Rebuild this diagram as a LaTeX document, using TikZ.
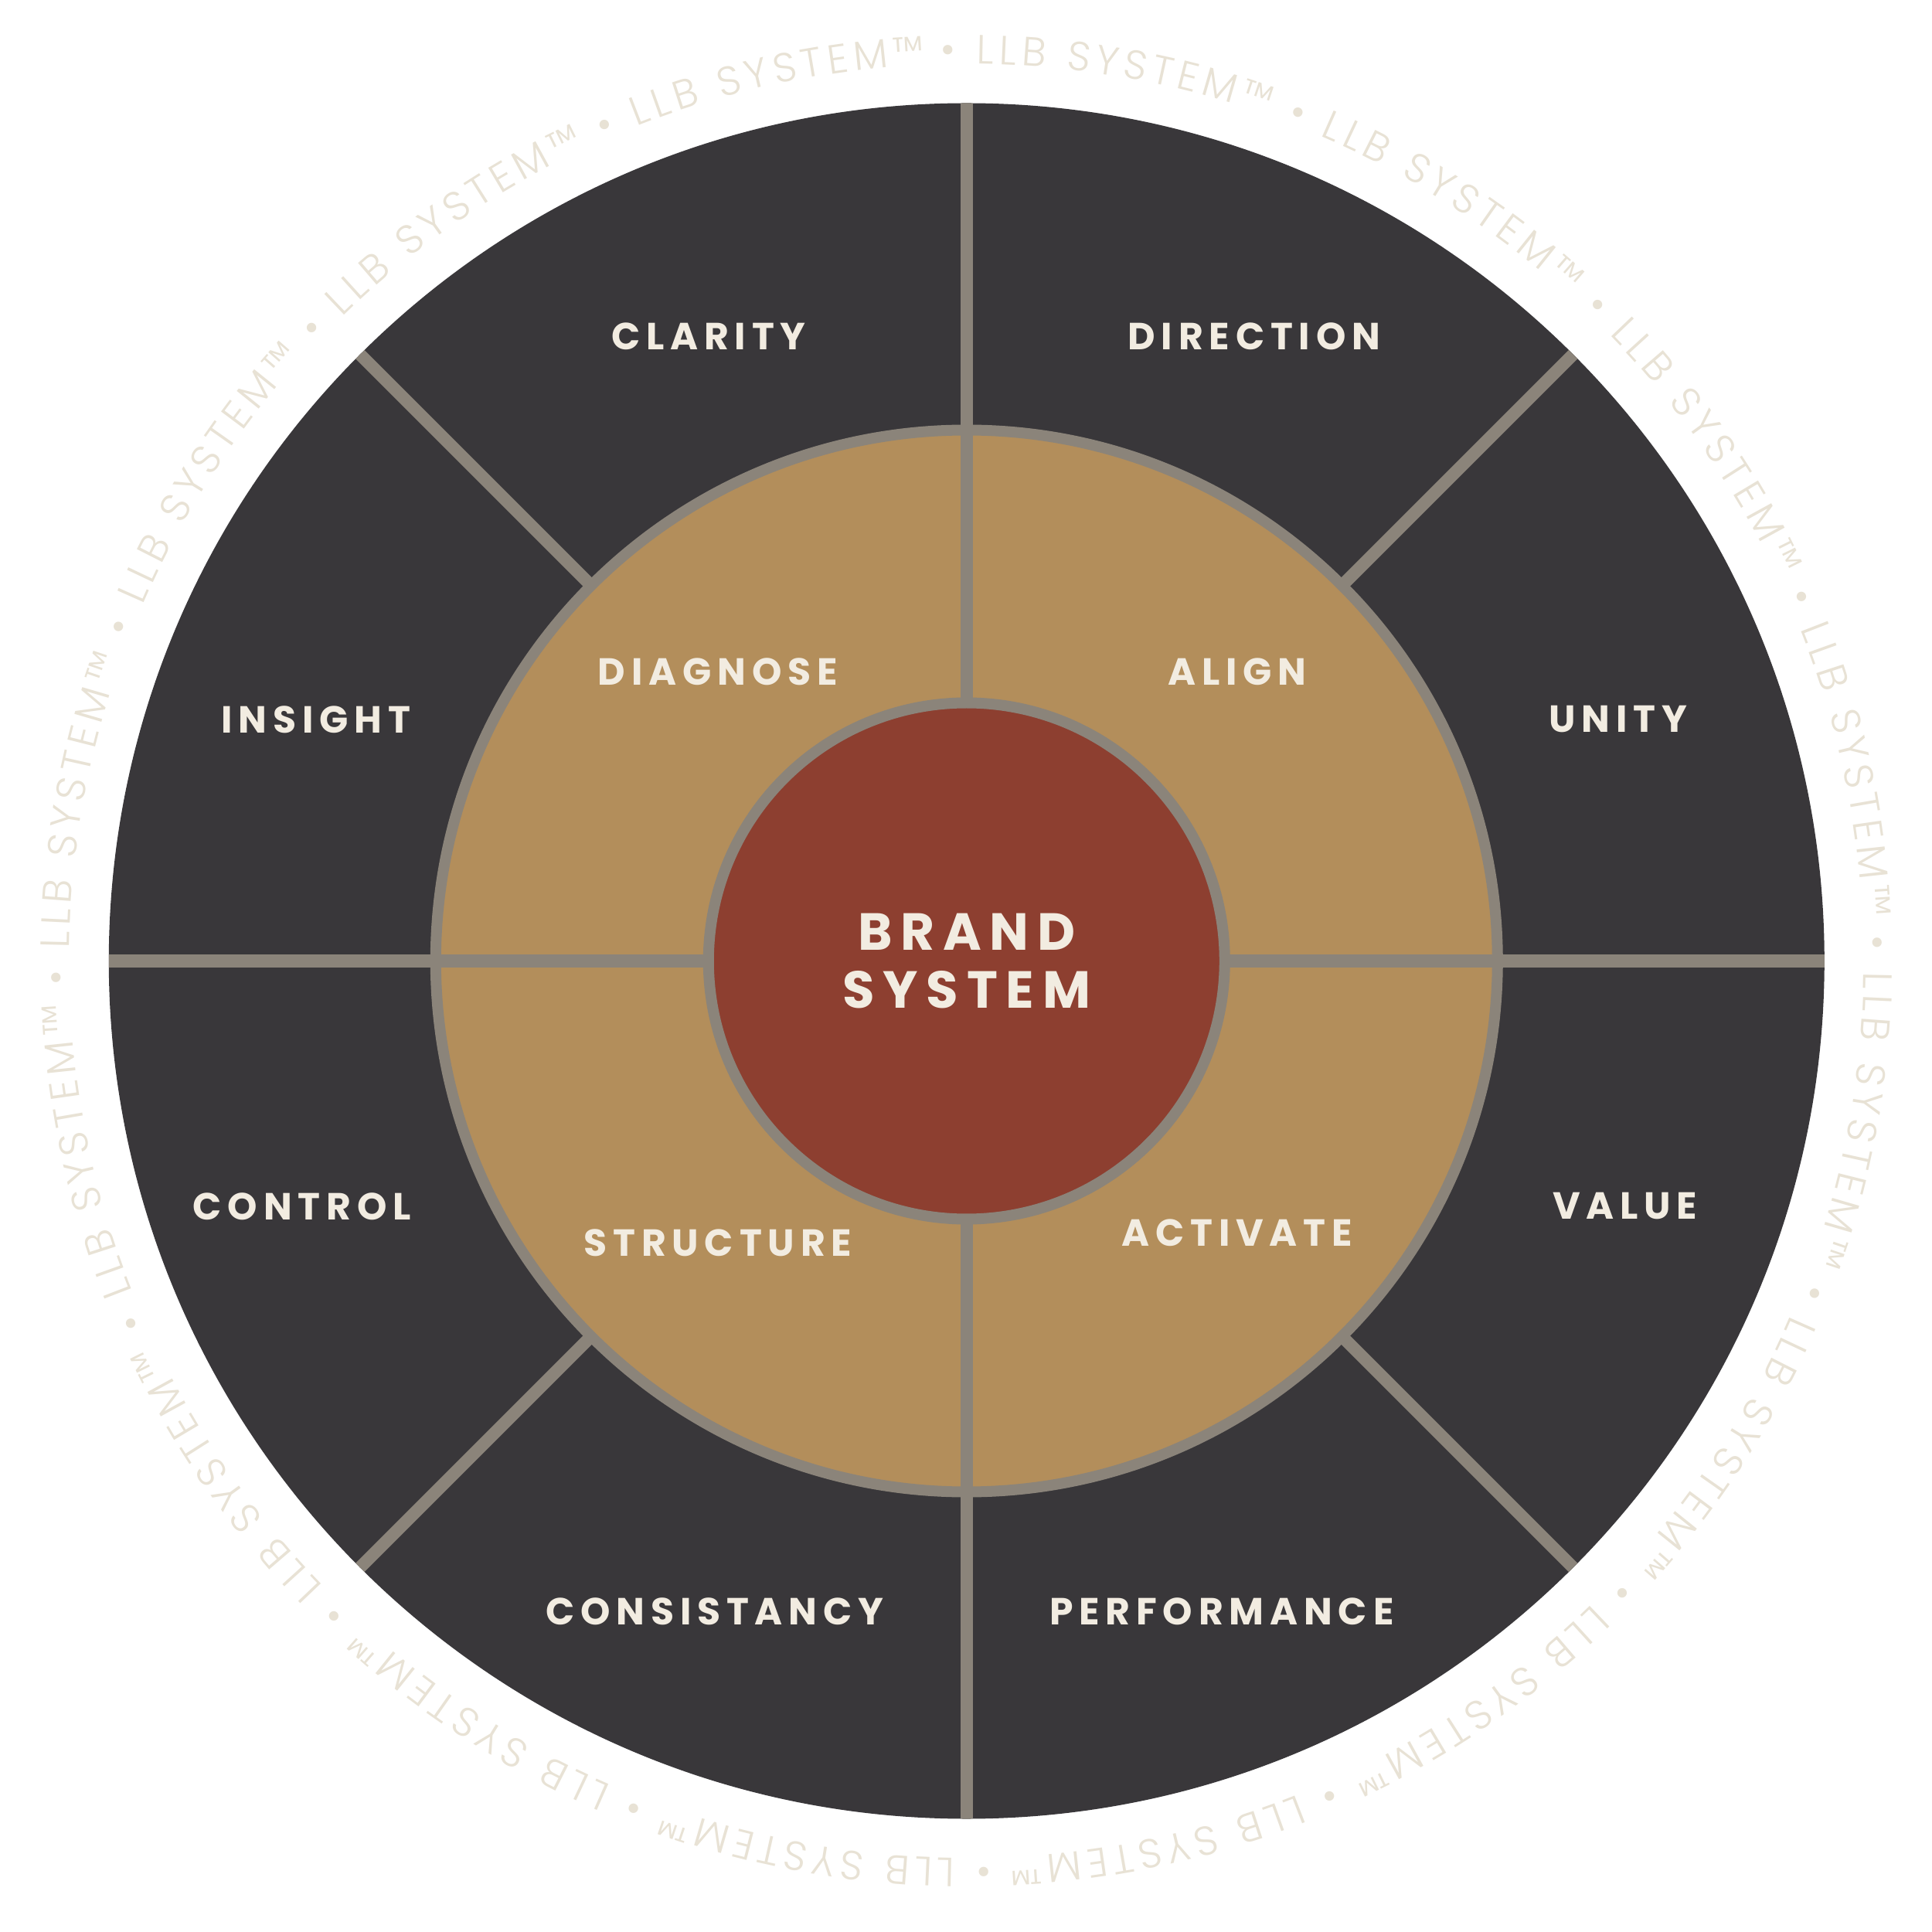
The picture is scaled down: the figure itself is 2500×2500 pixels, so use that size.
\documentclass[tikz,border=0pt]{standalone}
\usepackage{fontspec}
\usetikzlibrary{decorations.text}
\newfontfamily\labfont{Poppins}[LetterSpace=16]
\newfontfamily\ringfont{Poppins Light}
\definecolor{darkc}{HTML}{39373A}
\definecolor{linec}{HTML}{8B847A}
\definecolor{tanc}{HTML}{B38E5B}
\definecolor{redc}{HTML}{8D3F30}
\definecolor{cream}{HTML}{F2ECE1}
\definecolor{ringc}{HTML}{E8E2D5}
\tikzset{
  divider/.style={draw=linec, line width=0.16cm},
  ringborder/.style={draw=linec, line width=0.14cm},
  lab/.style={text=cream, inner sep=0pt, font=\labfont\bfseries\fontsize{13.9}{16}\selectfont},
  biglab/.style={text=cream, inner sep=0pt, align=center, font=\labfont\bfseries\fontsize{19.2}{21.3}\selectfont},
}
\begin{document}
\begin{tikzpicture}[x=0.01cm,y=0.01cm]
\useasboundingbox[fill=white] (-1250.8,-1256.5) rectangle (1249.2,1243.5);
% ring text
\path[decorate, decoration={text along path, text format delimiters={|}{|},
  text color=ringc, text align={fit to path},
  text={|\ringfont\fontsize{15}{18}\selectfont|• LLB SYSTEM™ • LLB SYSTEM™ • LLB SYSTEM™ • LLB SYSTEM™ • LLB SYSTEM™ • LLB SYSTEM™ • LLB SYSTEM™ • LLB SYSTEM™ • LLB SYSTEM™ • LLB SYSTEM™ • LLB SYSTEM™ • LLB SYSTEM™ • LLB SYSTEM™ • LLB SYSTEM™ • LLB SYSTEM™ • LLB SYSTEM™}}]
  (91.66:1161) arc[start angle=91.66, end angle=-267.2, radius=1161];
% outer disk
\fill[darkc] (0,0) circle[radius=1110];
\fill[tanc] (0,0) circle[radius=687];
\begin{scope}
  \clip (0,0) circle[radius=1110];
  \draw[divider] (-1120,0) -- (1120,0);
  \draw[divider] (0,-1120) -- (0,1120);
  \foreach \ang in {45,135,225,315} \draw[divider] (\ang:687) -- (\ang:1130);
\end{scope}
\draw[ringborder] (0,0) circle[radius=687];
\fill[redc] (0,0) circle[radius=334];
\draw[ringborder] (0,0) circle[radius=334];
% labels
\node[lab] (clarity) at (-334,808.5) {CLARITY};
\node[lab] (direction) at (372,808.5) {DIRECTION};
\node[lab] (insight) at (-842,312.5) {INSIGHT};
\node[lab] (unity) at (843,312.5) {UNITY};
\node[lab] (control) at (-860,-317.5) {CONTROL};
\node[lab] (value) at (852,-317.5) {VALUE};
\node[lab] (consistancy) at (-326,-841.5) {CONSISTANCY};
\node[lab] (performance) at (330,-841.5) {PERFORMANCE};
\node[lab] (diagnose) at (-322,374.5) {DIAGNOSE};
\node[lab] (align) at (350,374.5) {ALIGN};
\node[lab] (structure) at (-322,-364.5) {STRUCTURE};
\node[lab] (activate) at (350,-352) {ACTIVATE};
\node[biglab] (brand) at (0,0) {BRAND\\SYSTEM};
\end{tikzpicture}
\end{document}
